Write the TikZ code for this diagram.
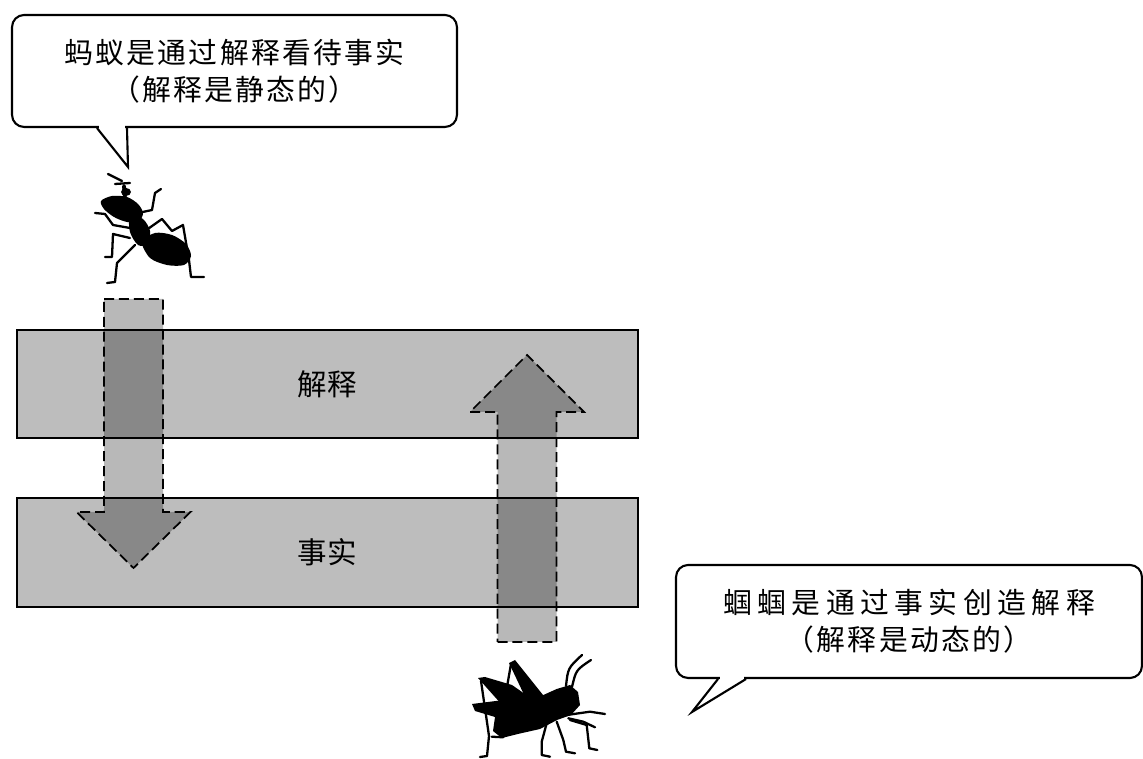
\documentclass[tikz,border=0pt]{standalone}
\usepackage{fontspec}
\usetikzlibrary{calc}

\newfontfamily\saytext[LetterSpace=8]{Noto Sans CJK SC}
\newfontfamily\saywide[LetterSpace=19]{Noto Sans CJK SC}
\newfontfamily\bandtext[LetterSpace=3]{Noto Sans CJK SC}

\newcommand\shafthalf{29.5}
\newcommand\headhalf{57}
\newcommand\fatarrow[4]{
  \draw[fatarrow] (#1 - \shafthalf, #2) -- (#1 + \shafthalf, #2)
     -- (#1 + \shafthalf, #3) -- (#1 + \headhalf, #3)
     -- (#1, #4)
     -- (#1 - \headhalf, #3) -- (#1 - \shafthalf, #3) -- cycle ;
}

\tikzset{
  band/.style={draw, line width=1.1pt, fill=black!26, minimum width=12.42cm,
    font=\fontsize{16.8pt}{20pt}\bandtext},
  fatarrow/.style={line width=1pt, dash pattern=on 5.7pt off 2.8pt,
    fill=black, fill opacity=.28},
  bubble/.style={draw, line width=1.2pt, fill=white, rounded corners=.24cm,
    align=center, inner sep=0pt, font=\fontsize{16.4pt}{21pt}\saytext},
  bubbleline/.style={line width=1.2pt},
  leg/.style={line width=1.3pt, line join=round, line cap=round},
}

\begin{document}
\begin{tikzpicture}[x=.02cm, y=-.02cm]
  \useasboundingbox (0, 0) rectangle (1143, 759) ;

  \node[band, minimum height=2.16cm] (interp) at (327.5, 384) {解释} ;
  \node[band, minimum height=2.18cm] (fact) at (327.5, 552.5) {事实} ;

  \fatarrow{133.5}{299}{512}{568}
  \fatarrow{527}{642}{412}{355}

  % ant
  \draw[leg] (108, 174) -- (122, 181) ;
  \draw[leg] (115, 184) -- (130, 183) ;
  \draw[leg, line width=2.2pt] (124, 186) -- (125, 199) ;
  \fill (126, 192) ellipse (5 and 4) ;
  \fill plot[smooth cycle] coordinates {(101, 201) (112, 196) (127, 197)
    (138, 204) (143, 213) (139, 221) (127, 222) (114, 217) (104, 209)} ;
  \fill plot[smooth cycle] coordinates {(130, 216) (143, 219) (150, 231)
    (148, 244) (138, 245) (130, 232)} ;
  \fill plot[smooth cycle] coordinates {(142, 242) (155, 233) (172, 235)
    (186, 244) (191, 256) (184, 265) (167, 265) (150, 258)} ;
  \draw[leg] (138, 213) -- (152, 210) -- (155, 193) -- (161, 189) ;
  \draw[leg] (145, 231) -- (162, 219) -- (172, 231) -- (183, 225)
     -- (189, 260) -- (191, 277) -- (204, 277) ;
  \draw[leg] (95, 213) -- (105, 214) -- (113, 225) -- (130, 228) ;
  \draw[leg] (130, 238) -- (113, 234) -- (112, 257) -- (105, 257) ;
  \draw[leg] (135, 245) -- (117, 263) -- (115, 282) -- (107, 283) ;

  % cricket
  \fill (509, 663) -- (515, 660) -- (547, 700) -- (528, 703) -- cycle ;
  \draw[leg] (511, 664) -- (504, 704) ;
  \fill (478, 678) -- (485, 677) -- (512, 685) -- (532, 699) -- (503, 706) -- cycle ;
  \draw[leg] (481, 681) -- (489, 736) -- (487, 756) -- (480, 757) ;
  \fill (472, 704) -- (500, 700.5) -- (536.7, 698) -- (556.7, 689)
     -- (570, 685) -- (578, 692) -- (580, 705) -- (571, 715)
     -- (557, 720) -- (540, 729) -- (520, 733.5) -- (501.7, 738)
     -- (493, 731) -- (495, 717) -- (475, 711) -- cycle ;
  \draw[leg] (566, 686) .. controls (568, 668) .. (582, 655) ;
  \draw[leg] (572, 687) .. controls (576, 670) .. (591, 660) ;
  \draw[leg] (491.7, 736.7) -- (503.3, 737.3) ;
  \draw[leg] (546.7, 723.3) -- (541.7, 741.7) -- (541.7, 755) -- (550, 756.7) ;
  \draw[leg] (566.7, 715) -- (590, 711.7) -- (605, 714) ;
  \draw[leg] (568.3, 718.3) -- (583.3, 721.7) -- (595, 727.3) ;
  \draw[leg] (570, 720) -- (586.7, 725) -- (589.3, 748.3) -- (597.3, 750) ;
  \draw[leg] (556.7, 721.7) -- (563.3, 740) -- (566, 751.7) -- (575, 753.3) ;

  % speech bubbles
  \node[bubble, minimum width=8.9cm, minimum height=2.24cm] (antsay) at (234.5, 71)
    {蚂蚁是通过解释看待事实\\（解释是静态的）} ;
  \coordinate (antmouth) at (128, 167) ;
  \fill[white] ($(antsay.south west) + (88, -3)$) rectangle ($(antsay.south west) + (114, 3)$) ;
  \draw[bubbleline] ($(antsay.south west) + (86, 0)$) -- (antmouth)
     -- ($(antsay.south west) + (116, 0)$) ;

  \node[bubble, minimum width=9.32cm, minimum height=2.26cm] (crisay) at (909, 621.5)
    {{\saywide 蝈蝈是通过事实创造解释}\\（解释是动态的）} ;
  \coordinate (crimouth) at (692, 712) ;
  \fill[white] ($(crisay.south west) + (45, -3)$) rectangle ($(crisay.south west) + (69, 3)$) ;
  \draw[bubbleline] ($(crisay.south west) + (43, 0)$) -- (crimouth)
     -- ($(crisay.south west) + (71, 0)$) ;
\end{tikzpicture}
\end{document}
